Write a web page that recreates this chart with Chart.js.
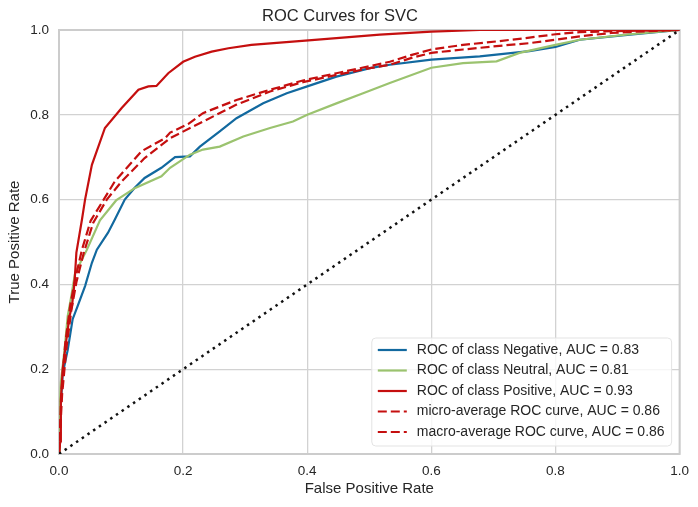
<!DOCTYPE html>
<html>
<head>
<meta charset="utf-8">
<script src="https://cdn.jsdelivr.net/npm/chart.js@4.4.1/dist/chart.umd.min.js"></script>
<style>
  html, body { margin: 0; padding: 0; background: #ffffff; }
  canvas { display: block; }
</style>
</head>
<body>
<canvas id="c" width="698" height="507"></canvas>
<script>
// ---- Data ----
const tickValues = [0.0, 0.2, 0.4, 0.6, 0.8, 1.0];

const negativeFpr = [0, 0.003, 0.006, 0.014, 0.022, 0.030, 0.042, 0.053, 0.061, 0.079, 0.090, 0.106, 0.122, 0.138, 0.165, 0.187, 0.211, 0.227, 0.259, 0.286, 0.329, 0.367, 0.400, 0.447, 0.501, 0.533, 0.600, 0.678, 0.758, 0.800, 0.839, 0.920, 1.0];
const negativeTpr = [0, 0.120, 0.190, 0.245, 0.318, 0.349, 0.396, 0.451, 0.482, 0.522, 0.553, 0.600, 0.628, 0.651, 0.675, 0.700, 0.702, 0.725, 0.761, 0.792, 0.827, 0.851, 0.867, 0.890, 0.910, 0.918, 0.930, 0.938, 0.950, 0.960, 0.977, 0.989, 1.0];

const neutralFpr = [0, 0.001, 0.003, 0.009, 0.014, 0.019, 0.026, 0.045, 0.066, 0.092, 0.122, 0.165, 0.179, 0.211, 0.232, 0.259, 0.297, 0.340, 0.377, 0.400, 0.447, 0.490, 0.533, 0.600, 0.651, 0.705, 0.742, 0.800, 0.839, 0.920, 1.0];
const neutralTpr = [0, 0.100, 0.169, 0.247, 0.325, 0.365, 0.427, 0.482, 0.551, 0.598, 0.627, 0.655, 0.675, 0.706, 0.718, 0.725, 0.749, 0.769, 0.784, 0.800, 0.827, 0.851, 0.875, 0.911, 0.922, 0.926, 0.946, 0.965, 0.977, 0.990, 1.0];

const positiveFpr = [0, 0.002, 0.003, 0.006, 0.011, 0.017, 0.021, 0.025, 0.028, 0.037, 0.042, 0.053, 0.074, 0.101, 0.128, 0.144, 0.157, 0.176, 0.200, 0.219, 0.246, 0.273, 0.310, 0.407, 0.517, 0.600, 0.678, 1.0];
const positiveTpr = [0, 0.030, 0.127, 0.200, 0.260, 0.325, 0.350, 0.404, 0.475, 0.553, 0.600, 0.682, 0.769, 0.816, 0.859, 0.867, 0.868, 0.898, 0.925, 0.937, 0.949, 0.957, 0.965, 0.976, 0.989, 0.996, 1.0, 1.0];

const microFpr = [0, 0.004, 0.010, 0.018, 0.026, 0.037, 0.051, 0.072, 0.090, 0.133, 0.171, 0.179, 0.208, 0.232, 0.286, 0.340, 0.393, 0.447, 0.501, 0.533, 0.570, 0.600, 0.651, 0.705, 0.758, 0.800, 0.839, 0.890, 1.0];
const microTpr = [0, 0.150, 0.260, 0.350, 0.412, 0.482, 0.550, 0.600, 0.643, 0.714, 0.745, 0.758, 0.778, 0.804, 0.835, 0.859, 0.881, 0.898, 0.915, 0.925, 0.942, 0.954, 0.965, 0.973, 0.982, 0.990, 0.995, 0.997, 1.0];

const macroFpr = [0, 0.005, 0.012, 0.020, 0.028, 0.040, 0.055, 0.077, 0.101, 0.138, 0.179, 0.232, 0.286, 0.340, 0.393, 0.447, 0.501, 0.533, 0.570, 0.600, 0.651, 0.705, 0.758, 0.800, 0.839, 0.890, 0.944, 1.0];
const macroTpr = [0, 0.140, 0.250, 0.340, 0.405, 0.475, 0.545, 0.600, 0.643, 0.698, 0.745, 0.784, 0.824, 0.855, 0.877, 0.894, 0.910, 0.918, 0.935, 0.946, 0.954, 0.962, 0.969, 0.977, 0.985, 0.993, 0.997, 1.0];

const diagonalX = [0, 1];
const diagonalY = [0, 1];

const seriesLabels = [
  'ROC of class Negative, AUC = 0.83',
  'ROC of class Neutral, AUC = 0.81',
  'ROC of class Positive, AUC = 0.93',
  'micro-average ROC curve, AUC = 0.86',
  'macro-average ROC curve, AUC = 0.86'
];

// ---- Styling ----
const FONT = "'Liberation Sans', Arial, sans-serif";
const TEXT = '#262626';
const GRID = '#d2d2d2';
const BLUE = '#12699f';
const GREEN = '#9bc36f';
const RED = '#c50f0f';

const pts = (xs, ys) => xs.map((x, i) => ({ x: x, y: ys[i] }));

const lineDs = (label, xs, ys, color, dash, order) => ({
  label: label,
  data: pts(xs, ys),
  showLine: true,
  borderColor: color,
  backgroundColor: color,
  borderWidth: 2.2,
  borderDash: dash,
  pointRadius: 0,
  pointHoverRadius: 0,
  tension: 0,
  fill: false,
  order: order
});

const datasets = [
  lineDs(seriesLabels[0], negativeFpr, negativeTpr, BLUE, [], 6),
  lineDs(seriesLabels[1], neutralFpr, neutralTpr, GREEN, [], 5),
  lineDs(seriesLabels[2], positiveFpr, positiveTpr, RED, [], 4),
  lineDs(seriesLabels[3], microFpr, microTpr, RED, [9, 4], 3),
  lineDs(seriesLabels[4], macroFpr, macroTpr, RED, [9, 4], 2),
  Object.assign(lineDs('', diagonalX, diagonalY, '#111111', [2.5, 4.4], 1), { borderWidth: 2.5, inLegend: false })
];

const framePlugin = {
  id: 'frame',
  beforeDatasetsDraw(chart) {
    const { ctx, chartArea: a } = chart;
    ctx.save();
    ctx.strokeStyle = '#cccccc';
    ctx.lineWidth = 2;
    ctx.strokeRect(a.left, a.top, a.right - a.left, a.bottom - a.top);
    ctx.restore();
  }
};

const legendPlugin = {
  id: 'boxLegend',
  afterDatasetsDraw(chart) {
    const { ctx, chartArea } = chart;
    const items = chart.data.datasets.filter(d => d.inLegend !== false);
    ctx.save();
    ctx.font = '14px ' + FONT;
    const maxW = Math.max(...items.map(d => ctx.measureText(d.label).width));
    const padL = 6, lineLen = 29, gap = 10, padR = 7, rowH = 20.5, padT = 12, padB = 14;
    const w = padL + lineLen + gap + maxW + padR;
    const h = padT + rowH * (items.length - 1) + padB;
    const right = chartArea.right - 8, bottom = chartArea.bottom - 8;
    const left = right - w, top = bottom - h;
    ctx.beginPath();
    if (ctx.roundRect) ctx.roundRect(left, top, w, h, 4); else ctx.rect(left, top, w, h);
    ctx.fillStyle = 'rgba(255,255,255,0.8)';
    ctx.fill();
    ctx.strokeStyle = '#e3e3e3';
    ctx.lineWidth = 1;
    ctx.stroke();
    items.forEach((d, i) => {
      const y = top + padT + i * rowH;
      ctx.beginPath();
      ctx.setLineDash(d.borderDash || []);
      ctx.lineWidth = d.borderWidth;
      ctx.strokeStyle = d.borderColor;
      ctx.moveTo(left + padL, y);
      ctx.lineTo(left + padL + lineLen, y);
      ctx.stroke();
      ctx.setLineDash([]);
      ctx.fillStyle = TEXT;
      ctx.textAlign = 'left';
      ctx.textBaseline = 'middle';
      ctx.fillText(d.label, left + padL + lineLen + gap, y);
    });
    ctx.restore();
  }
};

const tickFont = { family: FONT, size: 13.5 };
const labelFont = { family: FONT, size: 15 };

new Chart(document.getElementById('c'), {
  type: 'scatter',
  data: { datasets: datasets },
  options: {
    responsive: false,
    animation: false,
    devicePixelRatio: 1,
    layout: { padding: { left: 0, right: 18, top: 0, bottom: 0 } },
    plugins: {
      legend: { display: false },
      tooltip: { enabled: false },
      title: {
        display: true,
        text: 'ROC Curves for SVC',
        color: TEXT,
        font: { family: FONT, size: 16.5, weight: 'normal', lineHeight: 1.2 },
        padding: { top: 6.5, bottom: 3.7 }
      }
    },
    scales: {
      x: {
        type: 'linear',
        min: 0, max: 1,
        afterBuildTicks: s => { s.ticks = tickValues.map(v => ({ value: v })); },
        afterFit: s => { s.height = 53; },
        ticks: { color: TEXT, font: tickFont, padding: 9, maxRotation: 0, callback: v => Number(v).toFixed(1) },
        grid: { color: GRID, lineWidth: 1.3, drawTicks: false },
        border: { display: false },
        title: { display: true, text: 'False Positive Rate', color: TEXT, font: labelFont, padding: { top: 0, bottom: 9.5 } }
      },
      y: {
        type: 'linear',
        min: 0, max: 1,
        afterBuildTicks: s => { s.ticks = tickValues.map(v => ({ value: v })); },
        afterFit: s => { s.width = 59; },
        ticks: { color: TEXT, font: tickFont, padding: 10, callback: v => Number(v).toFixed(1) },
        grid: { color: GRID, lineWidth: 1.3, drawTicks: false },
        border: { display: false },
        title: { display: true, text: 'True Positive Rate', color: TEXT, font: labelFont, padding: { top: 6, bottom: 0 } }
      }
    }
  },
  plugins: [framePlugin, legendPlugin]
});
</script>
</body>
</html>
